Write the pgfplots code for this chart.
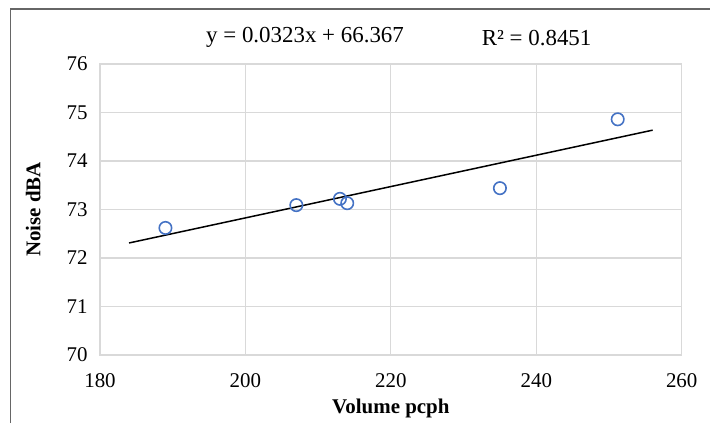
\documentclass[border=0pt]{standalone}
\usepackage{fontspec}
\setmainfont{Liberation Serif}
\usepackage{pgfplots}
\pgfplotsset{compat=1.18}
\definecolor{gridgray}{HTML}{D9D9D9}
\definecolor{ptblue}{HTML}{4472C4}
\begin{document}
\begin{tikzpicture}[x=1bp,y=1bp]
\path[use as bounding box] (0,0) rectangle (710,423);
\draw[line width=1.2bp, black!60] (10.5,0) -- (10.5,414) -- (710,414);
\begin{axis}[
  at={(100bp,68bp)}, anchor=south west,
  width=581.7bp, height=291bp, scale only axis,
  xmin=180, xmax=260, ymin=70, ymax=76,
  xtick={180,200,220,240,260}, ytick={70,71,72,73,74,75,76},
  grid=major, major grid style={gridgray, line width=1.2bp},
  axis line style={gridgray, line width=1.2bp},
  tick style={draw=none},
  ticklabel style={font=\fontsize{21}{24}\selectfont},
  /pgf/number format/assume math mode=true,
  xticklabel style={anchor=center, yshift=-26bp},
  yticklabel style={anchor=east, xshift=-9bp},
  clip=false,
]
\addplot[black, line width=1.5bp, no markers] coordinates {(184,72.310) (256,74.636)};
\addplot[only marks, mark=o, mark size=6.2bp, ptblue, line width=1.6bp] coordinates {
  (189,72.62) (207,73.09) (213,73.22) (214,73.13) (235,73.44) (251.2,74.86)};
\node[font=\fontsize{23}{26}\selectfont] at (axis cs:208.2,76.54) {y = 0.0323x + 66.367};
\node[font=\fontsize{23}{26}\selectfont] at (axis cs:240.05,76.54) {R² = 0.8451};
\node[font=\bfseries\fontsize{21}{24}\selectfont] at (axis description cs:0.5,-0.182) {Volume pcph};
\node[font=\bfseries\fontsize{21}{24}\selectfont, rotate=90] at (axis description cs:-0.115,0.5) {Noise dBA};
\end{axis}
\end{tikzpicture}
\end{document}
